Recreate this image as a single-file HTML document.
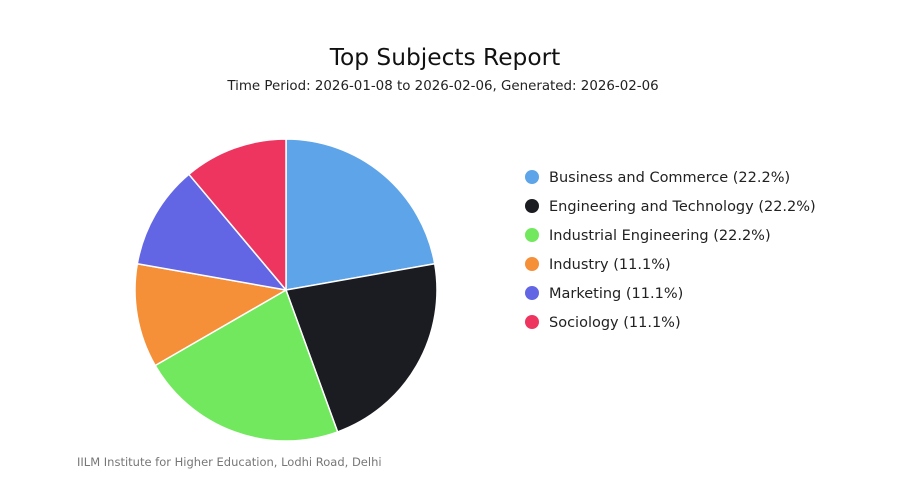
<!DOCTYPE html>
<html><head><meta charset="utf-8"><style>
html,body{margin:0;padding:0;background:#fff;}
svg{display:block;font-family:"DejaVu Sans","Liberation Sans",sans-serif;}
</style></head><body>
<svg width="900" height="500" viewBox="0 0 900 500">
<rect width="900" height="500" fill="#fff"/>
<text x="445" y="65" text-anchor="middle" font-size="23.3" fill="#111">Top Subjects Report</text>
<text x="443" y="90" text-anchor="middle" font-size="13.4" fill="#222">Time Period: 2026-01-08 to 2026-02-06, Generated: 2026-02-06</text>
<g stroke="#fff" stroke-width="1.5" stroke-linejoin="round">
<path d="M286,290 L286,139 A151,151 0 0 1 434.7,263.8 Z" fill="#5ea4e8"/>
<path d="M286,290 L434.7,263.8 A151,151 0 0 1 337.6,431.9 Z" fill="#1b1b22"/>
<path d="M286,290 L337.6,431.9 A151,151 0 0 1 155.2,365.5 Z" fill="#72e85e"/>
<path d="M286,290 L155.2,365.5 A151,151 0 0 1 137.3,263.8 Z" fill="#f58f38"/>
<path d="M286,290 L137.3,263.8 A151,151 0 0 1 188.9,174.3 Z" fill="#6366e4"/>
<path d="M286,290 L188.9,174.3 A151,151 0 0 1 286,139 Z" fill="#ee3560"/>
</g>
<g font-size="14.5" fill="#222">
<circle cx="532" cy="177" r="7" fill="#5ea4e8"/><text x="549" y="182">Business and Commerce (22.2%)</text>
<circle cx="532" cy="206" r="7" fill="#1b1b22"/><text x="549" y="211">Engineering and Technology (22.2%)</text>
<circle cx="532" cy="235" r="7" fill="#72e85e"/><text x="549" y="240">Industrial Engineering (22.2%)</text>
<circle cx="532" cy="264" r="7" fill="#f58f38"/><text x="549" y="269">Industry (11.1%)</text>
<circle cx="532" cy="293" r="7" fill="#6366e4"/><text x="549" y="298">Marketing (11.1%)</text>
<circle cx="532" cy="322" r="7" fill="#ee3560"/><text x="549" y="327">Sociology (11.1%)</text>
</g>
<text x="77" y="466" font-size="11.5" fill="#777">IILM Institute for Higher Education, Lodhi Road, Delhi</text>
</svg>
</body></html>
